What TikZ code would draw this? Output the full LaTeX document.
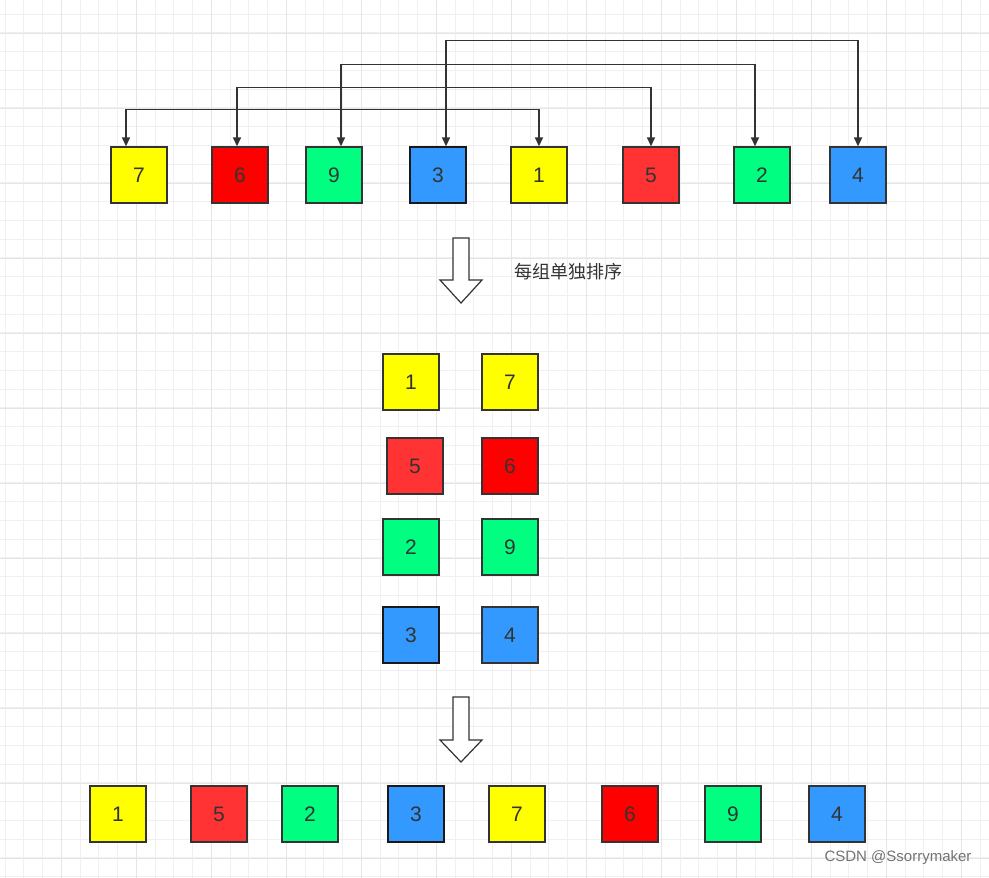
\documentclass[tikz,border=0pt]{standalone}
\usepackage{fontspec}
\setmainfont{Liberation Sans}
\newfontfamily\cjk{Noto Sans CJK SC}
\usetikzlibrary{arrows.meta}
\definecolor{cy}{HTML}{FFFF00}
\definecolor{cr}{HTML}{FF0000}
\definecolor{cl}{HTML}{FF3333}
\definecolor{cg}{HTML}{00FF80}
\definecolor{cb}{HTML}{3399FF}
\definecolor{ink}{HTML}{333333}
\tikzset{
 cell/.style={draw=ink, line width=1.3pt, minimum size=56pt, inner sep=0pt, font=\fontsize{21}{21}\selectfont, text=ink},
 link/.style={draw=ink, line width=1.4pt, {Triangle[length=9pt,width=8pt]}-{Triangle[length=9pt,width=8pt]}},
 hollow/.style={draw=ink, line width=1.2pt, fill=white}
}
\begin{document}
\begin{tikzpicture}[x=1pt,y=-1pt]
\useasboundingbox (0,0) rectangle (989,878);
\fill[white] (0,0) rectangle (989,878);
\foreach \i in {0,...,53} \draw[black!6, line width=0.6pt] ({5+\i*18.75},0) -- ({5+\i*18.75},878);
\foreach \i in {0,...,47} \draw[black!6, line width=0.6pt] (0,{14+\i*18.75}) -- (989,{14+\i*18.75});
\foreach \i in {0,...,13} \draw[black!10, line width=0.8pt] ({61+\i*75},0) -- ({61+\i*75},878);
\foreach \i in {0,...,11} \draw[black!10, line width=0.8pt] (0,{33+\i*75}) -- (989,{33+\i*75});
% top row
\node[cell, fill=cy] (t1) at (139,175) {7};
\node[cell, fill=cr] (t2) at (240,175) {6};
\node[cell, fill=cg] (t3) at (334,175) {9};
\node[cell, fill=cb, draw=black!90] (t4) at (438,175) {3};
\node[cell, fill=cy] (t5) at (539,175) {1};
\node[cell, fill=cl] (t6) at (651,175) {5};
\node[cell, fill=cg] (t7) at (762,175) {2};
\node[cell, fill=cb] (t8) at (858,175) {4};
\draw[link] ([xshift=-13pt]t1.north) -- ++(0,-37) -| (t5.north);
\draw[link] ([xshift=-3pt]t2.north) -- ++(0,-59) -| (t6.north);
\draw[link] ([xshift=7pt]t3.north) -- ++(0,-82) -| ([xshift=-7pt]t7.north);
\draw[link] ([xshift=8pt]t4.north) -- ++(0,-106) -| (t8.north);
% hollow arrows
\draw[hollow] (453,238) -- (469,238) -- (469,280) -- (482,280) -- (461,303) -- (440,280) -- (453,280) -- cycle;
\node[anchor=west, text=ink, font=\cjk\fontsize{18}{18}\selectfont] (lbl) at (511,272) {每组单独排序};
\draw[hollow] (453,697) -- (469,697) -- (469,740) -- (482,740) -- (461,762) -- (440,740) -- (453,740) -- cycle;
% middle
\node[cell, fill=cy] (m1) at (411,382) {1};
\node[cell, fill=cy] (m2) at (510,382) {7};
\node[cell, fill=cl] (m3) at (415,466) {5};
\node[cell, fill=cr] (m4) at (510,466) {6};
\node[cell, fill=cg] (m5) at (411,547) {2};
\node[cell, fill=cg] (m6) at (510,547) {9};
\node[cell, fill=cb, draw=black!90] (m7) at (411,635) {3};
\node[cell, fill=cb] (m8) at (510,635) {4};
% bottom
\node[cell, fill=cy] (b1) at (118,814) {1};
\node[cell, fill=cl] (b2) at (219,814) {5};
\node[cell, fill=cg] (b3) at (310,814) {2};
\node[cell, fill=cb, draw=black!90] (b4) at (416,814) {3};
\node[cell, fill=cy] (b5) at (517,814) {7};
\node[cell, fill=cr] (b6) at (630,814) {6};
\node[cell, fill=cg] (b7) at (733,814) {9};
\node[cell, fill=cb] (b8) at (837,814) {4};
\node[anchor=east, text=black!55, font=\fontsize{15}{15}\selectfont] (wm) at (975,858) {CSDN @Ssorrymaker};
\end{tikzpicture}
\end{document}
